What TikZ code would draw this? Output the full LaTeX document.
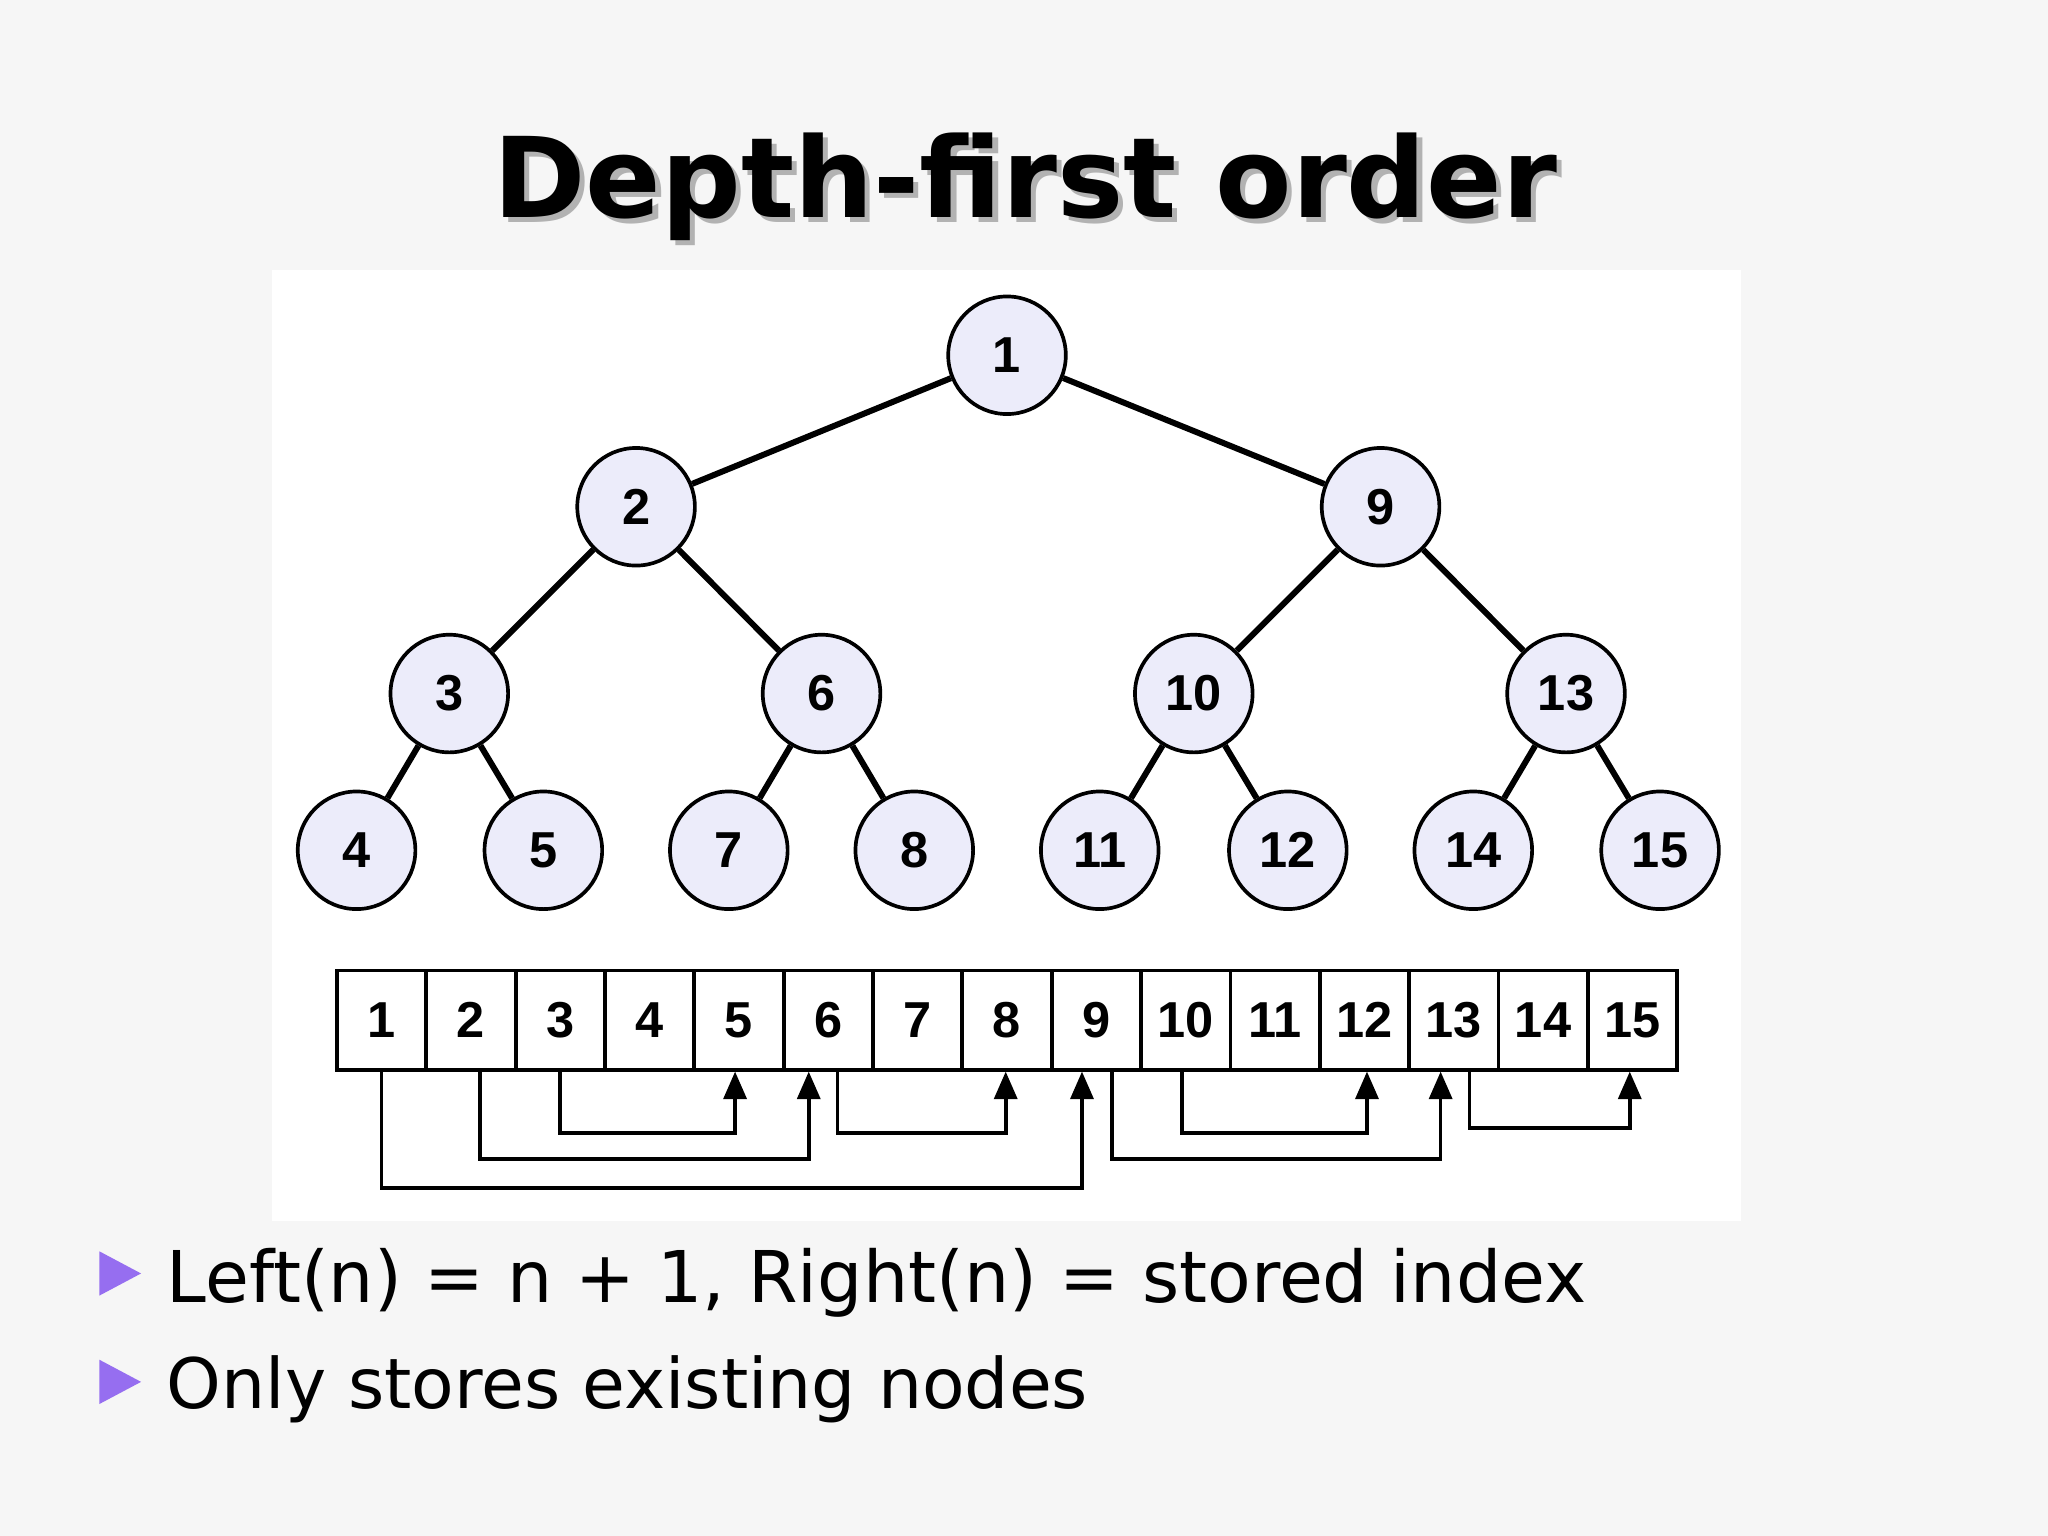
\documentclass[tikz,border=0pt]{standalone}
\usepackage{fontspec}
\setmainfont{DejaVu Sans}
\newfontfamily\numfont{Liberation Sans}
\usetikzlibrary{arrows.meta}
\definecolor{nodefill}{RGB}{236,236,250}
\definecolor{bullet}{RGB}{150,110,240}
\begin{document}
\begin{tikzpicture}[x=0.01cm,y=-0.01cm,
  tn/.style={circle,draw=black,thick,fill=nodefill,minimum size=0.9cm,inner sep=0pt,font=\numfont\fontsize{11}{11}\selectfont\bfseries},
  cell/.style={draw=black,thick,minimum width=0.684cm,minimum height=0.76cm,inner sep=0pt,font=\numfont\fontsize{11}{11}\selectfont\bfseries},
  ed/.style={line width=1.3pt},
  lk/.style={thick,-{Triangle[length=6pt,width=5pt]}}]
\fill[gray!7] (0,0) rectangle (1568,1176);
\useasboundingbox (0,0) rectangle (1568,1176);
\fill[white] (208,207) rectangle (1333,935);
\node[gray!60] at (789,147) {\resizebox{8.14cm}{!}{\bfseries Depth-first order}};
\node (title) at (785,143) {\resizebox{8.14cm}{!}{\bfseries Depth-first order}};
\node[tn] (n1) at (771,272) {1};
\node[tn] (n2) at (487,388) {2};
\node[tn] (n9) at (1057,388) {9};
\node[tn] (n3) at (344,531) {3};
\node[tn] (n6) at (629,531) {6};
\node[tn] (n10) at (914,531) {10};
\node[tn] (n13) at (1199,531) {13};
\node[tn] (n4) at (273,651) {4};
\node[tn] (n5) at (416,651) {5};
\node[tn] (n7) at (558,651) {7};
\node[tn] (n8) at (700,651) {8};
\node[tn] (n11) at (842,651) {11};
\node[tn] (n12) at (986,651) {12};
\node[tn] (n14) at (1128,651) {14};
\node[tn] (n15) at (1271,651) {15};
\foreach \a/\b in {n1/n2,n1/n9,n2/n3,n2/n6,n9/n10,n9/n13,n3/n4,n3/n5,n6/n7,n6/n8,n10/n11,n10/n12,n13/n14,n13/n15}
  \draw[ed] (\a) -- (\b);
\foreach \i in {1,...,15}
  \node[cell] (c\i) at ({258+68.4*(\i-0.5)},781) {\i};
\foreach \s/\so/\t/\to/\y in {1/0/9/-11/908, 2/7/6/-15/886, 3/0/5/-3/866, 6/7/8/-1/866, 9/12/13/-10/886, 10/-3/12/2/866, 13/12/15/-2/862}
  \draw[lk] ([xshift=\so*0.01cm]c\s.south) -- ++(0,{\y-819}) -| ([xshift=\to*0.01cm]c\t.south);
\fill[bullet] (76,958) -- (108,975) -- (76,992) -- cycle;
\fill[bullet] (76,1041) -- (108,1058) -- (76,1075) -- cycle;
\node[anchor=west,inner sep=0pt] (b1) at (127,982) {\resizebox{10.86cm}{!}{Left(n) = n + 1, Right(n) = stored index}};
\node[anchor=west,inner sep=0pt] (b2) at (127,1064) {\resizebox{7.05cm}{!}{Only stores existing nodes}};
\end{tikzpicture}
\end{document}
